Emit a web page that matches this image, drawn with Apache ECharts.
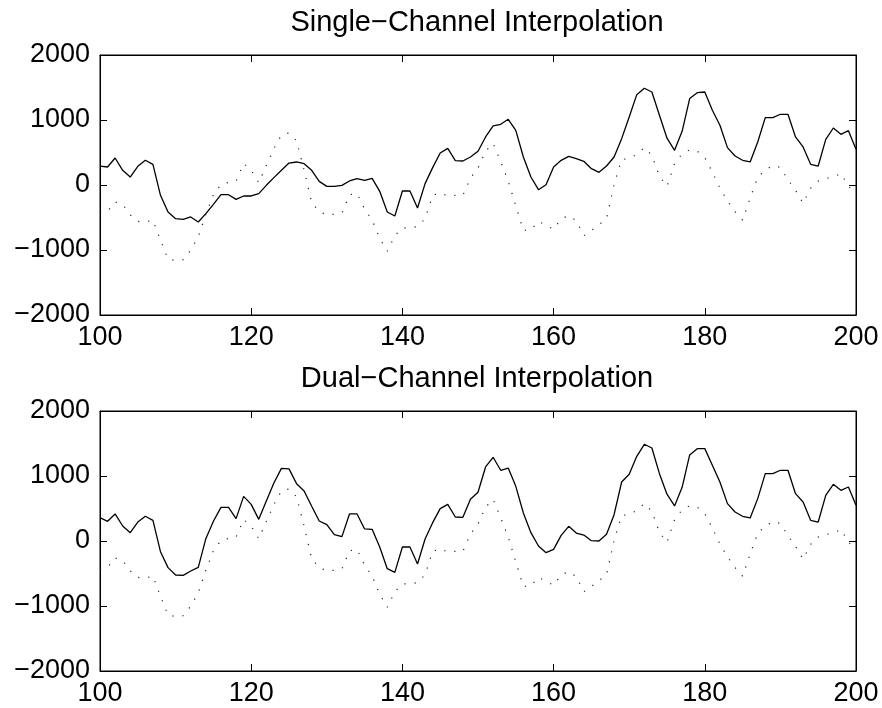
<!DOCTYPE html>
<html>
<head>
<meta charset="utf-8">
<script src="https://cdn.jsdelivr.net/npm/echarts@6/dist/echarts.min.js"></script>
<style>html,body{margin:0;padding:0;background:#fff}#c{width:882px;height:708px}</style>
</head>
<body>
<div id="c"></div>
<script>
const titles = ["Single\u2212Channel Interpolation", "Dual\u2212Channel Interpolation"];
const xStart = 100;
const singleSolid = [292,277,415,226,123,287,380,318,-159,-415,-518,-528,-492,-569,-441,-298,-149,-149,-221,-169,-169,-133,-5,113,226,338,354,328,226,56,-21,-21,-5,62,97,72,103,-97,-415,-477,-92,-92,-354,21,267,492,564,374,369,431,520,739,908,934,1011,841,431,123,-72,5,277,380,441,405,364,251,195,292,431,713,1047,1390,1488,1431,1072,720,533,826,1329,1421,1431,1149,918,575,446,380,354,662,1036,1036,1088,1088,739,585,318,292,703,877,780,836,549];
const dualSolid = [359,303,416,231,128,292,380,318,-164,-410,-523,-528,-462,-405,36,303,518,518,344,687,564,333,616,893,1118,1110,882,770,534,308,251,97,67,416,416,185,180,-92,-426,-482,-92,-92,-354,31,282,498,564,369,364,641,750,1139,1288,1088,1123,841,431,128,-77,-180,-128,87,226,123,92,5,0,103,405,908,1026,1303,1488,1431,1036,720,539,826,1324,1421,1421,1165,908,575,446,380,354,652,1036,1036,1088,1088,728,600,318,292,703,872,780,831,549];
const original = [-430,-405,-260,-300,-460,-560,-570,-540,-850,-1140,-1160,-1150,-1000,-800,-450,-150,10,40,60,330,230,36,300,560,770,800,680,230,-270,-410,-460,-450,-430,-150,-130,-370,-540,-820,-1020,-780,-660,-660,-640,-520,-160,-120,-170,-160,-160,107,260,520,640,360,60,-320,-700,-690,-560,-620,-680,-523,-470,-550,-780,-700,-610,-520,10,390,410,471,575,457,133,-20,330,480,540,520,420,200,-50,-240,-410,-540,-200,120,230,300,270,80,-80,-280,-50,60,100,120,180,-20,-130];
const yTicks = [-2000, -1000, 0, 1000, 2000];
const xTicks = [100, 120, 140, 160, 180, 200];

const toPairs = arr => arr.map((v, i) => [xStart + i, v]);
const FONT = 'Liberation Sans, Arial, Helvetica, sans-serif';
const grids = [
  {left: 100, right: 26, top: 55, height: 260, show: true, borderColor: '#000', borderWidth: 1},
  {left: 100, right: 26, top: 411, height: 260, show: true, borderColor: '#000', borderWidth: 1}
];
const xAxes = [], yAxes = [], series = [];
const solids = [singleSolid, dualSolid];
for (let g = 0; g < 2; g++) {
  ['bottom', 'top'].forEach(pos => {
    xAxes.push({
      type: 'value', gridIndex: g, position: pos, min: 100, max: 200, interval: 20,
      axisLine: {show: true, onZero: false, lineStyle: {color: '#000', width: 1}},
      axisTick: {show: true, inside: true, length: 7, lineStyle: {color: '#000'}},
      axisLabel: {show: pos === 'bottom', color: '#000', fontSize: 27, fontFamily: FONT, margin: 9},
      splitLine: {show: false}
    });
  });
  ['left', 'right'].forEach(pos => {
    yAxes.push({
      type: 'value', gridIndex: g, position: pos, min: -2000, max: 2000, interval: 1000,
      axisLine: {show: true, onZero: false, lineStyle: {color: '#000', width: 1}},
      axisTick: {show: true, inside: true, length: 7, lineStyle: {color: '#000'}},
      axisLabel: {show: pos === 'left', color: '#000', fontSize: 27, fontFamily: FONT, margin: 10,
        formatter: v => String(v).replace('-', '\u2212')},
      splitLine: {show: false}
    });
  });
  series.push({
    type: 'line', xAxisIndex: g * 2, yAxisIndex: g * 2, data: toPairs(solids[g]),
    showSymbol: false, symbol: 'none', animation: false,
    lineStyle: {color: '#000', width: 1.3}
  });
  series.push({
    type: 'line', xAxisIndex: g * 2, yAxisIndex: g * 2, data: toPairs(original),
    showSymbol: false, symbol: 'none', animation: false,
    lineStyle: {color: '#222', width: 1.2, type: [1.2, 9]}
  });
}
const chart = echarts.init(document.getElementById('c'), null, {renderer: 'canvas'});
chart.setOption({
  animation: false,
  backgroundColor: '#fff',
  title: [
    {text: titles[0], left: 477, top: 8, textAlign: 'center', padding: 0, textStyle: {fontSize: 29, fontWeight: 'normal', color: '#000', fontFamily: FONT}},
    {text: titles[1], left: 477, top: 364, textAlign: 'center', padding: 0, textStyle: {fontSize: 29, fontWeight: 'normal', color: '#000', fontFamily: FONT}}
  ],
  grid: grids,
  xAxis: xAxes,
  yAxis: yAxes,
  series: series
});
</script>
</body>
</html>
